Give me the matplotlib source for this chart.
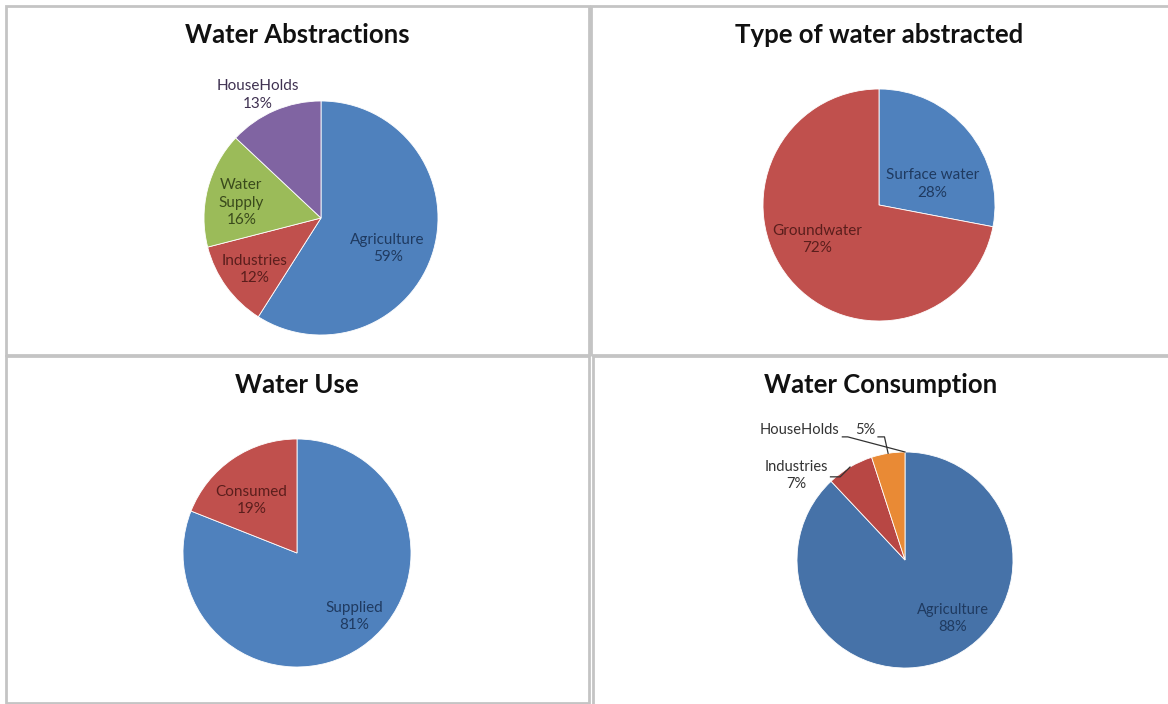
import numpy as np
import matplotlib
matplotlib.use("Agg")
import matplotlib.pyplot as plt
from matplotlib.patches import Rectangle

# data
abstr_labels = ["Agriculture", "Industries", "Water\nSupply", "HouseHolds"]
abstr_values = [59, 12, 16, 13]

type_labels = ["Surface water", "Groundwater"]
type_values = [28, 72]

use_labels = ["Supplied", "Consumed"]
use_values = [81, 19]

cons_labels = ["Agriculture", "Industries", "HouseHolds"]
cons_values = [88, 7, 5]

W, H = 1168, 704
fig = plt.figure(figsize=(W / 100, H / 100), dpi=100)
fig.patch.set_facecolor("white")

BLUE = "#4F81BD"
RED = "#C0504D"
GREEN = "#9BBB59"
PURPLE = "#8064A2"
TXT_BLUE = "#1F3A60"
TXT_RED = "#5A1E1C"
TXT_GREEN = "#3A4A1C"
TXT_PURPLE = "#3F3151"

LABEL_FONT = "Lato"
TITLE_FONT = "Lato"
LSIZE = 11


def px_rect(x0, y0, x1, y1):
    # panel frame in pixel coords (y from top)
    fig.patches.append(Rectangle((x0 / W, 1 - y1 / H), (x1 - x0) / W, (y1 - y0) / H,
                                 transform=fig.transFigure, fill=False,
                                 edgecolor="#C4C4C4", linewidth=2.0))


def pie_axes(cx, cy, r):
    ax = fig.add_axes([(cx - r) / W, (H - cy - r) / H, 2 * r / W, 2 * r / H])
    ax.set_xlim(-1, 1)
    ax.set_ylim(-1, 1)
    ax.set_aspect("equal")
    ax.axis("off")
    return ax


def title(x, y, s):
    fig.text(x / W, 1 - y / H, s, ha="center", va="center", fontsize=18.5,
             fontweight="bold", family=TITLE_FONT, color="#111111")


def draw_pie(ax, values, colors):
    wedges, _ = ax.pie(values, colors=colors, startangle=90, counterclock=False,
                       radius=1, wedgeprops=dict(edgecolor="white", linewidth=0.6))
    ax.set_xlim(-1, 1)
    ax.set_ylim(-1, 1)
    return wedges


def put_labels(ax, labels, values, pos, colors):
    for lab, v, (x, y), c in zip(labels, values, pos, colors):
        ax.text(x, y, "%s\n%d%%" % (lab, v), ha="center", va="center",
                fontsize=LSIZE, family=LABEL_FONT, color=c, linespacing=1.3)


# frames
px_rect(6, 6, 589, 355)
px_rect(591, 6, 1172, 355)
px_rect(6, 356, 589, 703)
px_rect(593, 356, 1172, 708)

# Water Abstractions
title(297, 35, "Water Abstractions")
ax1 = pie_axes(321, 218, 117)
draw_pie(ax1, abstr_values, [BLUE, RED, GREEN, PURPLE])
put_labels(ax1, abstr_labels, abstr_values,
           [(0.57, -0.26), (-0.57, -0.44), (-0.68, 0.13), (-0.54, 1.05)],
           [TXT_BLUE, TXT_RED, TXT_GREEN, TXT_PURPLE])

# Type of water abstracted
title(879, 35, "Type of water abstracted")
ax2 = pie_axes(879, 205, 116)
draw_pie(ax2, type_values, [BLUE, RED])
put_labels(ax2, type_labels, type_values,
           [(0.46, 0.18), (-0.53, -0.30)], [TXT_BLUE, TXT_RED])

# Water Use
title(297, 385, "Water Use")
ax3 = pie_axes(297, 553, 114)
draw_pie(ax3, use_values, [BLUE, RED])
put_labels(ax3, use_labels, use_values,
           [(0.50, -0.56), (-0.40, 0.46)], [TXT_BLUE, TXT_RED])

# Water Consumption
title(881, 385, "Water Consumption")
ax4 = pie_axes(905, 560, 108)
w4 = draw_pie(ax4, cons_values, ["#4672A8", "#B84744", "#E98A35"])
ax4.text(0.44, -0.54, "%s\n%d%%" % (cons_labels[0], cons_values[0]), ha="center",
         va="center", fontsize=10.5, family=LABEL_FONT, color=TXT_BLUE, linespacing=1.3)
ax4.text(-1.01, 0.78, "%s\n%d%%" % (cons_labels[1], cons_values[1]), ha="center",
         va="center", fontsize=10.5, family=LABEL_FONT, color="#333333", linespacing=1.3)
ax4.text(-0.98, 1.2, cons_labels[2], ha="center", va="center", fontsize=10.5,
         family=LABEL_FONT, color="#333333")
ax4.text(-0.37, 1.2, "%d%%" % cons_values[2], ha="center", va="center", fontsize=10.5,
         family=LABEL_FONT, color="#333333")


def on_circle(deg):
    t = np.deg2rad(deg)
    return np.cos(t), np.sin(t)


# leader lines
ind_mid = (w4[1].theta1 + w4[1].theta2) / 2
hh_mid = (w4[2].theta1 + w4[2].theta2) / 2
hh_edge = w4[2].theta1
ex, ey = on_circle(ind_mid)
ax4.plot([-0.69, -0.6, ex], [0.77, 0.77, ey], color="#333333", lw=0.9, clip_on=False)
ex, ey = on_circle(hh_edge)
ax4.plot([-0.58, -0.53, ex], [1.14, 1.14, ey], color="#333333", lw=0.9, clip_on=False)
ex, ey = on_circle(hh_mid)
ax4.plot([-0.25, -0.19, ex], [1.14, 1.14, ey], color="#333333", lw=0.9, clip_on=False)

fig.savefig("out.png", dpi=100, facecolor="white")
